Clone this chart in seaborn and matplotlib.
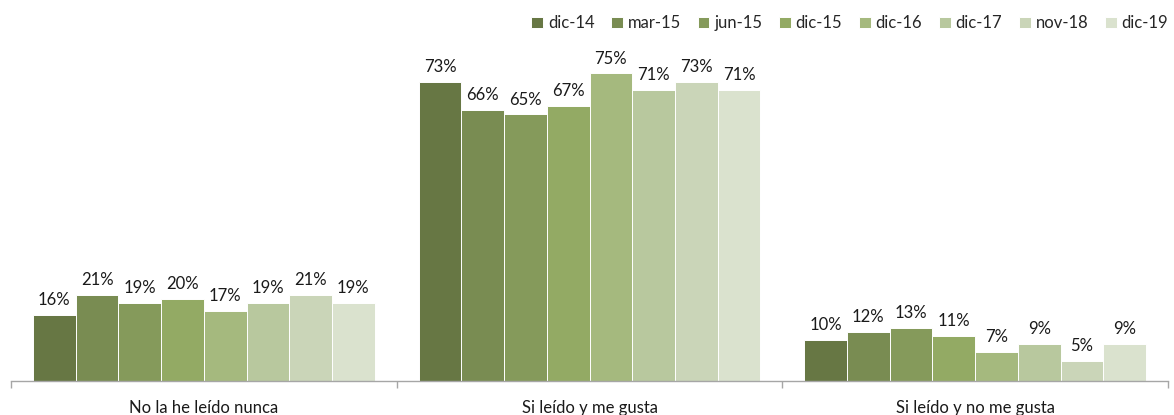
import pandas as pd
import matplotlib.pyplot as plt
import seaborn as sns
from matplotlib.ticker import FixedLocator

# --- data ---
categories = ["No la he leído nunca", "Si leído y me gusta", "Si leído y no me gusta"]
periods = ["dic-14", "mar-15", "jun-15", "dic-15", "dic-16", "dic-17", "nov-18", "dic-19"]
values = {
    "dic-14": [16, 73, 10],
    "mar-15": [21, 66, 12],
    "jun-15": [19, 65, 13],
    "dic-15": [20, 67, 11],
    "dic-16": [17, 75, 7],
    "dic-17": [19, 71, 9],
    "nov-18": [21, 73, 5],
    "dic-19": [19, 71, 9],
}
colors = ["#6A7F3B", "#7D9648", "#89A550", "#97B559",
          "#A8C374", "#BACF97", "#CBDAB3", "#DBE5CB"]

rows = []
for p in periods:
    for c, v in zip(categories, values[p]):
        rows.append({"Categoria": c, "Periodo": p, "Valor": v})
df = pd.DataFrame(rows)

sns.set_style("white")
plt.rcParams["font.family"] = ["Lato", "DejaVu Sans"]

fig = plt.figure(figsize=(11.74, 4.15), dpi=100)
ax = fig.add_axes([11 / 1174, 1 - 381 / 415, 1157 / 1174, 328 / 415])

sns.barplot(data=df, x="Categoria", y="Valor", hue="Periodo",
            order=categories, hue_order=periods, palette=colors,
            width=0.886, gap=0, edgecolor="white", linewidth=0.7,
            errorbar=None, ax=ax)

for cont in ax.containers:
    ax.bar_label(cont, labels=[f"{v:.0f}%" for v in cont.datavalues],
                 padding=5, fontsize=12, color="#1a1a1a")

ax.set_ylim(0, 80)
ax.set_xlim(-0.5, 2.5)
ax.set_yticks([])
ax.set_xlabel("")
ax.set_ylabel("")
for s in ["top", "right", "left"]:
    ax.spines[s].set_visible(False)
ax.spines["bottom"].set_color("#A6A6A6")
ax.spines["bottom"].set_linewidth(1)

ax.tick_params(axis="x", which="both", bottom=True)
ax.tick_params(axis="x", which="major", length=0, pad=14, labelsize=12, labelcolor="#1a1a1a")
ax.xaxis.set_minor_locator(FixedLocator([-0.5, 0.5, 1.5, 2.5]))
ax.tick_params(axis="x", which="minor", length=5, color="#A6A6A6", width=1, direction="out")

ax.legend(loc="upper right", bbox_to_anchor=(1.006, 1.135), ncol=8, frameon=False,
          fontsize=12, handlelength=0.7, handleheight=0.7, handletextpad=0.3,
          columnspacing=1.0, borderaxespad=0)

fig.savefig("out.png", dpi=100)
